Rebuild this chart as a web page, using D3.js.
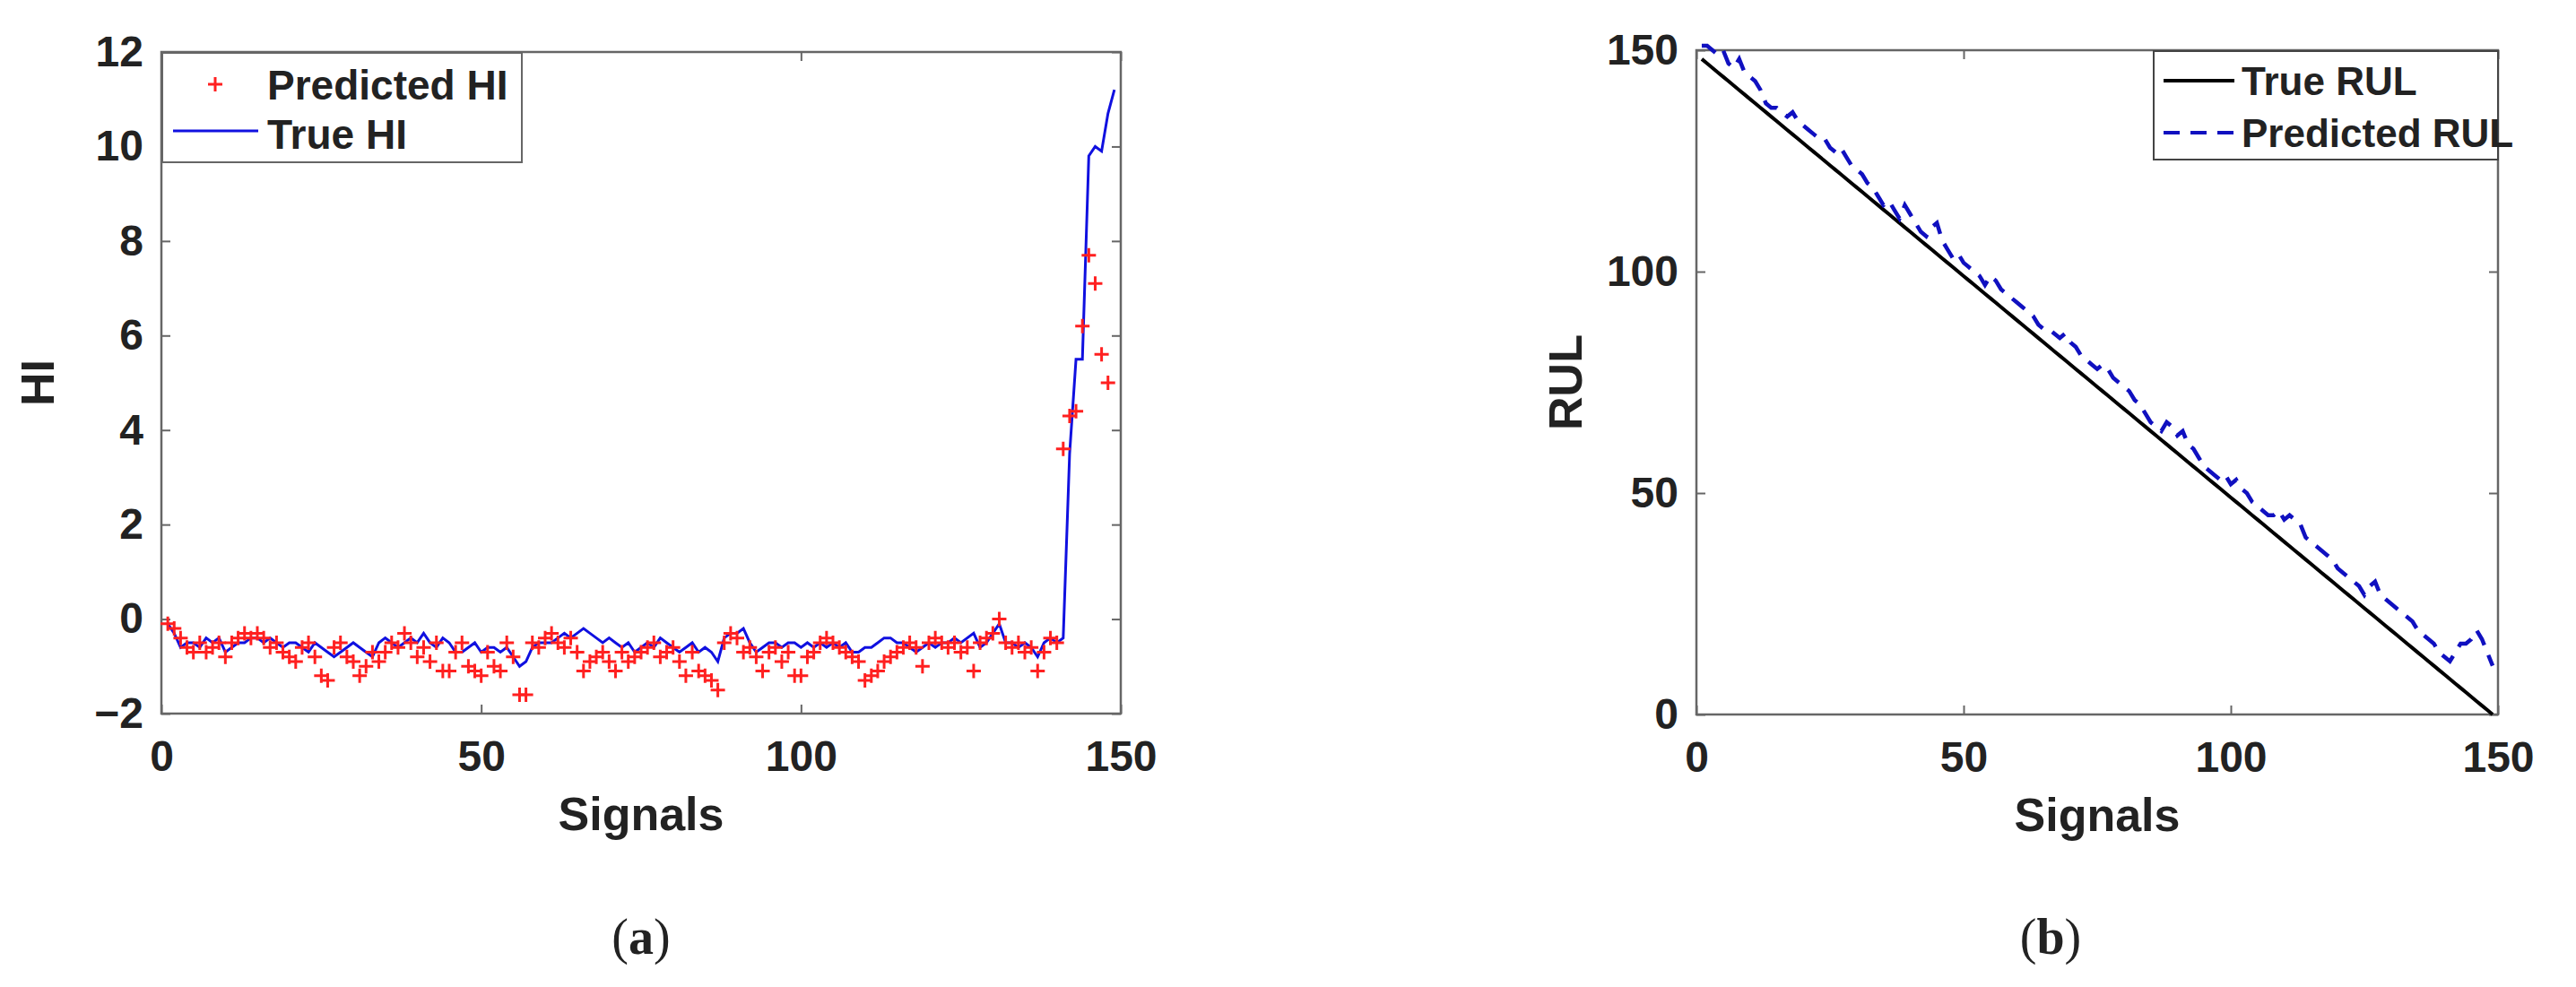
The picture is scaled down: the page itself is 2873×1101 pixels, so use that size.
<!DOCTYPE html>
<html>
<head>
<meta charset="utf-8">
<script src="https://cdn.jsdelivr.net/npm/d3@7"></script>
<style>
  body { margin: 0; background: #fff; }
  svg text { font-family: "Liberation Sans", Arial, sans-serif; font-weight: bold; fill: #222; }
  .cap { font-family: "Liberation Serif", "DejaVu Serif", serif; font-weight: normal; }
</style>
</head>
<body>
<div id="container"></div>
<script>
// health index panel (a)
const trueHI = [
  -0.1,-0.3,-0.6,-0.5,-0.5,-0.6,-0.4,-0.5,-0.4,-0.7,
  -0.6,-0.5,-0.5,-0.4,-0.4,-0.5,-0.4,-0.5,-0.6,-0.5,
  -0.5,-0.6,-0.7,-0.5,-0.6,-0.7,-0.8,-0.7,-0.6,-0.5,
  -0.6,-0.7,-0.8,-0.5,-0.4,-0.5,-0.6,-0.5,-0.4,-0.5,
  -0.3,-0.5,-0.6,-0.4,-0.5,-0.7,-0.7,-0.6,-0.5,-0.7,
  -0.6,-0.6,-0.7,-0.6,-0.8,-1.0,-0.9,-0.6,-0.5,-0.5,
  -0.5,-0.4,-0.3,-0.4,-0.3,-0.2,-0.3,-0.4,-0.5,-0.4,
  -0.5,-0.6,-0.5,-0.7,-0.6,-0.5,-0.6,-0.4,-0.5,-0.6,
  -0.7,-0.6,-0.5,-0.7,-0.6,-0.7,-0.9,-0.4,-0.3,-0.3,
  -0.2,-0.5,-0.7,-0.6,-0.5,-0.5,-0.6,-0.5,-0.5,-0.6,
  -0.5,-0.6,-0.5,-0.6,-0.5,-0.6,-0.5,-0.7,-0.7,-0.6,
  -0.6,-0.5,-0.4,-0.4,-0.5,-0.5,-0.6,-0.7,-0.6,-0.5,
  -0.6,-0.5,-0.5,-0.4,-0.5,-0.4,-0.3,-0.6,-0.5,-0.3,
  -0.1,-0.5,-0.5,-0.6,-0.5,-0.6,-0.8,-0.5,-0.4,-0.5,
  -0.4,3.5,5.5,5.5,9.8,10.0,9.9,10.7,11.2
];
const predHI = [
  -0.1,-0.2,-0.4,-0.6,-0.7,-0.5,-0.7,-0.6,-0.5,-0.8,
  -0.5,-0.4,-0.3,-0.4,-0.3,-0.4,-0.6,-0.5,-0.7,-0.8,
  -0.9,-0.6,-0.5,-0.8,-1.2,-1.3,-0.6,-0.5,-0.8,-0.9,
  -1.2,-1.0,-0.7,-0.9,-0.7,-0.5,-0.6,-0.3,-0.5,-0.8,
  -0.6,-0.9,-0.5,-1.1,-1.1,-0.7,-0.5,-1.0,-1.1,-1.2,
  -0.7,-1.0,-1.1,-0.5,-0.8,-1.6,-1.6,-0.5,-0.6,-0.4,
  -0.3,-0.5,-0.6,-0.4,-0.7,-1.1,-0.9,-0.8,-0.7,-0.9,
  -1.1,-0.7,-0.9,-0.8,-0.7,-0.6,-0.5,-0.8,-0.7,-0.6,
  -0.9,-1.2,-0.7,-1.1,-1.2,-1.3,-1.5,-0.5,-0.3,-0.4,
  -0.7,-0.6,-0.8,-1.1,-0.7,-0.6,-0.9,-0.7,-1.2,-1.2,
  -0.8,-0.7,-0.5,-0.4,-0.5,-0.6,-0.7,-0.8,-0.9,-1.3,
  -1.2,-1.1,-0.9,-0.8,-0.7,-0.6,-0.5,-0.6,-1.0,-0.5,
  -0.4,-0.5,-0.6,-0.5,-0.7,-0.6,-1.1,-0.5,-0.4,-0.3,
   0.0,-0.5,-0.6,-0.5,-0.7,-0.6,-1.1,-0.7,-0.4,-0.5,
   3.6,4.3,4.4,6.2,7.7,7.1,5.6,5.0
];
const hiTicksY = [-2, 0, 2, 4, 6, 8, 10, 12];

// remaining useful life panel (b)
const trueRUL = d3.range(1, 150).map(i => 149 - i);
const predRUL = [
  153,152,150,149,150,147,146,148,145,144,
  143,141,138,137,137,136,135,136,134,133,
  132,131,130,130,128,127,128,126,124,123,
  122,120,119,117,115,116,114,112,115,113,
  111,109,108,110,111,107,105,103,104,102,
  101,100,99,97,99,98,96,95,94,93,
  92,91,90,88,87,87,86,85,86,84,
  83,81,80,79,78,79,78,76,75,74,
  73,71,70,68,66,65,64,66,65,63,
  64,61,60,58,56,55,54,53,54,52,
  53,51,50,48,47,46,45,45,46,44,
  45,44,43,40,39,38,37,36,35,33,
  32,31,30,29,27,29,30,27,26,25,
  24,23,22,21,19,18,17,16,14,13,
  12,14,16,16,17,19,17,14,11
];
const rulTicksY = [0, 50, 100, 150];
const signalTicks = [0, 50, 100, 150];

const svg = d3.select("div#container").append("svg")
  .attr("width", 2873).attr("height", 1101);

function panel(box, yDomain, yTicks, yLabel) {
  const x = d3.scaleLinear().domain([0, 150]).range([box.x0, box.x1]);
  const y = d3.scaleLinear().domain(yDomain).range([box.y1, box.y0]);
  const g = svg.append("g");
  g.append("rect").attr("x", box.x0).attr("y", box.y0)
    .attr("width", box.x1 - box.x0).attr("height", box.y1 - box.y0)
    .attr("fill", "none").attr("stroke", "#666").attr("stroke-width", 2.5);
  // inward ticks, left/bottom with labels, right/top mirrored
  const ax = [
    [d3.axisBottom(x).tickValues(signalTicks).tickSize(-10).tickPadding(30), `translate(0,${box.y1})`],
    [d3.axisTop(x).tickValues(signalTicks).tickSize(-10).tickFormat(""), `translate(0,${box.y0})`],
    [d3.axisLeft(y).tickValues(yTicks).tickSize(-10).tickPadding(20), `translate(${box.x0},0)`],
    [d3.axisRight(y).tickValues(yTicks).tickSize(-10).tickFormat(""), `translate(${box.x1},0)`]
  ];
  ax.forEach(([a, t]) => {
    const s = g.append("g").attr("transform", t).call(a);
    s.select(".domain").remove();
    s.selectAll("line").attr("stroke", "#666").attr("stroke-width", 2);
    s.selectAll("text").style("font-size", "48px").attr("fill", "#222");
  });
  g.append("text").attr("x", (box.x0 + box.x1) / 2).attr("y", box.y1 + 130)
    .attr("text-anchor", "middle").style("font-size", "52px").text("Signals");
  g.append("text").attr("transform", `translate(${box.x0 - box.ylabOff},${(box.y0 + box.y1) / 2}) rotate(-90)`)
    .attr("text-anchor", "middle").style("font-size", "52px").text(yLabel);
  return { g, x, y };
}

// (a)
const a = panel({ x0: 180, x1: 1250, y0: 58, y1: 796, ylabOff: 120 }, [-2, 12], hiTicksY, "HI");
a.g.append("path").datum(trueHI)
  .attr("fill", "none").attr("stroke", "#1010e0").attr("stroke-width", 3)
  .attr("d", d3.line().x((d, i) => a.x(i + 1)).y(d => a.y(d)));
a.g.selectAll("path.plus").data(predHI).enter().append("path")
  .attr("class", "plus")
  .attr("transform", (d, i) => `translate(${a.x(i + 1)},${a.y(d)})`)
  .attr("d", "M-8,0H8M0,-8V8").attr("stroke", "#ff2020").attr("stroke-width", 3);
const la = a.g.append("g");
la.append("rect").attr("x", 181).attr("y", 59).attr("width", 401).attr("height", 122)
  .attr("fill", "#fff").attr("stroke", "#666").attr("stroke-width", 2);
la.append("path").attr("d", "M232,94H248M240,86V102").attr("stroke", "#ff2020").attr("stroke-width", 3);
la.append("text").attr("x", 298).attr("y", 111).style("font-size", "46px").text("Predicted HI");
la.append("line").attr("x1", 193).attr("x2", 288).attr("y1", 146).attr("y2", 146)
  .attr("stroke", "#1010e0").attr("stroke-width", 3);
la.append("text").attr("x", 298).attr("y", 166).style("font-size", "46px").text("True HI");

// (b)
const b = panel({ x0: 1892, x1: 2786, y0: 56, y1: 797, ylabOff: 128 }, [0, 150], rulTicksY, "RUL");
b.g.append("path").datum(trueRUL)
  .attr("fill", "none").attr("stroke", "#000").attr("stroke-width", 4)
  .attr("d", d3.line().x((d, i) => b.x(i + 1)).y(d => b.y(d)));
b.g.append("path").datum(predRUL)
  .attr("fill", "none").attr("stroke", "#1010c0").attr("stroke-width", 4.5)
  .attr("stroke-dasharray", "18,12")
  .attr("d", d3.line().x((d, i) => b.x(i + 1)).y(d => b.y(Math.min(d, 151))));
const lb = b.g.append("g");
lb.append("rect").attr("x", 2402).attr("y", 57).attr("width", 384).attr("height", 121)
  .attr("fill", "#fff").attr("stroke", "#444").attr("stroke-width", 2);
lb.append("line").attr("x1", 2413).attr("x2", 2492).attr("y1", 90).attr("y2", 90)
  .attr("stroke", "#000").attr("stroke-width", 4);
lb.append("text").attr("x", 2500).attr("y", 106).style("font-size", "44px").text("True RUL");
lb.append("line").attr("x1", 2413).attr("x2", 2492).attr("y1", 148).attr("y2", 148)
  .attr("stroke", "#1010c0").attr("stroke-width", 4).attr("stroke-dasharray", "18,12");
lb.append("text").attr("x", 2500).attr("y", 164).style("font-size", "44px").text("Predicted RUL");

// captions
[["a", 715], ["b", 2287]].forEach(([c, cx]) => {
  const t = svg.append("text").attr("class", "cap").attr("x", cx).attr("y", 1064)
    .attr("text-anchor", "middle").style("font-size", "56px").style("font-weight", "normal");
  t.append("tspan").text("(");
  t.append("tspan").style("font-weight", "bold").text(c);
  t.append("tspan").text(")");
});
</script>
</body>
</html>
